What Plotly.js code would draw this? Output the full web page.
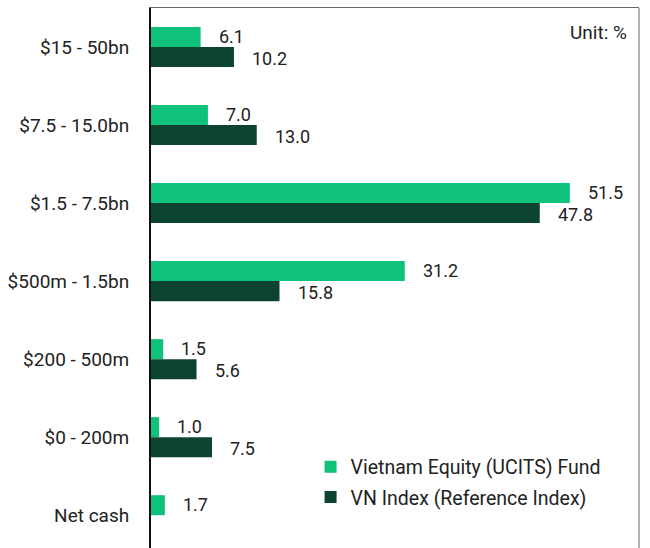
<!DOCTYPE html>
<html>
<head>
<meta charset="utf-8">
<script src="https://cdn.plot.ly/plotly-3.0.1.min.js"></script>
<style>html,body{margin:0;padding:0;background:#fff;}#chart{width:650px;height:548px;}</style>
</head>
<body>
<div id="chart"></div>
<script>
const categories = ["$15 - 50bn", "$7.5 - 15.0bn", "$1.5 - 7.5bn", "$500m - 1.5bn", "$200 - 500m", "$0 - 200m", "Net cash"];
const fundValues = [6.1, 7.0, 51.5, 31.2, 1.5, 1.0, 1.7];
const indexValues = [10.2, 13.0, 47.8, 15.8, 5.6, 7.5, null];
const seriesNames = ["Vietnam Equity (UCITS) Fund", "VN Index (Reference Index)"];
const unitLabel = "Unit: %";

const FONT = "Roboto, 'Noto Sans', sans-serif";
const TXT = "#222222";
const LIGHT = "#0FC27B";
const DARK = "#0C4431";

const traces = [
  {type: "bar", orientation: "h", name: seriesNames[0], x: fundValues, y: categories,
   marker: {color: LIGHT}, legendgroup: "a", hoverinfo: "skip"},
  {type: "bar", orientation: "h", name: seriesNames[1], x: indexValues, y: categories,
   marker: {color: DARK}, legendgroup: "b", hoverinfo: "skip"}
];

const annotations = [];
function addLabels(vals, yshift) {
  vals.forEach((v, i) => {
    if (v === null || v === undefined) return;
    annotations.push({x: v, y: categories[i], xref: "x", yref: "y", text: v.toFixed(1),
      showarrow: false, xanchor: "left", yanchor: "middle", xshift: 16, yshift: yshift,
      font: {family: FONT, size: 18, color: TXT}});
  });
}
addLabels(fundValues, 11);
addLabels(indexValues, -11);
annotations.push({x: 0.98, y: 0.954, xref: "paper", yref: "paper", text: unitLabel, showarrow: false,
  xanchor: "right", yanchor: "middle", font: {family: FONT, size: 19, color: TXT}});

const layout = {
  width: 650, height: 548,
  margin: {l: 151, r: 11, t: 8, b: 0},
  paper_bgcolor: "#fff", plot_bgcolor: "#fff",
  barmode: "group", bargap: 0.487, bargroupgap: 0,
  showlegend: true,
  legend: {x: 0.327, y: 0.186, xanchor: "left", yanchor: "top", traceorder: "grouped", tracegroupgap: 2,
    font: {family: FONT, size: 19.5, color: TXT}, bgcolor: "rgba(0,0,0,0)"},
  xaxis: {range: [0, 60], showgrid: false, zeroline: false, showticklabels: false, ticks: "",
    side: "top", showline: true, linecolor: "#666", linewidth: 1, fixedrange: true},
  yaxis: {type: "category", categoryorder: "array", categoryarray: categories, range: [6.42, -0.5],
    showgrid: false, zeroline: false, ticks: "", showline: true, linecolor: "#111", linewidth: 2,
    ticklabelstandoff: 16, tickfont: {family: FONT, size: 19, color: TXT}, fixedrange: true},
  shapes: [{type: "line", xref: "paper", yref: "paper", x0: 1, x1: 1, y0: 0, y1: 1,
    line: {color: "#666", width: 1}}],
  annotations: annotations,
  font: {family: FONT, color: TXT}
};

Plotly.newPlot("chart", traces, layout, {displayModeBar: false, staticPlot: true});
</script>
</body>
</html>
